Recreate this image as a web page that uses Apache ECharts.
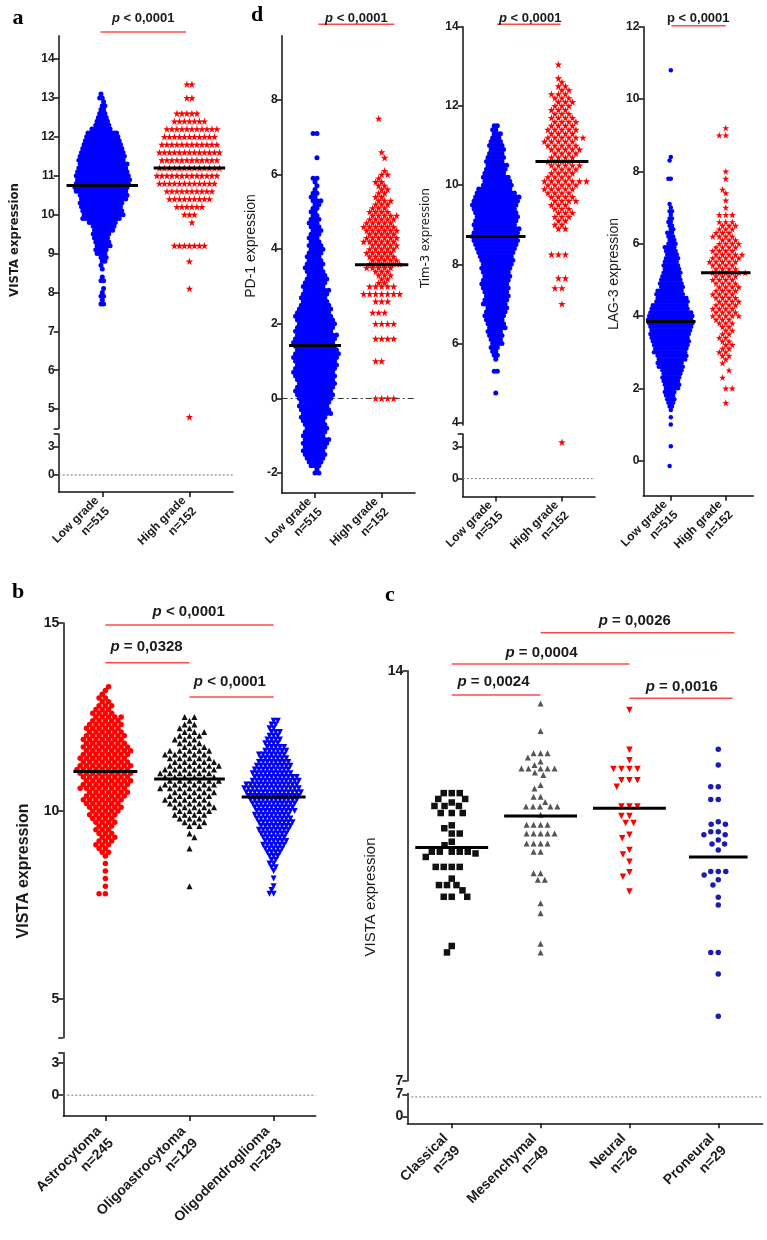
<!DOCTYPE html>
<html><head><meta charset="utf-8">
<script src="https://cdn.jsdelivr.net/npm/echarts@6/dist/echarts.min.js"></script>
<style>html,body{margin:0;padding:0;background:#fff}#c{width:767px;height:1240px}</style>
</head><body><div id="c"></div>
<script>
// ================= DATA =================
const gradeCats = ['Low grade\nn=515', 'High grade\nn=152'];
const histologyCats = ['Astrocytoma\nn=245', 'Oligoastrocytoma\nn=129', 'Oligodendroglioma\nn=293'];
const subtypeCats = ['Classical\nn=39', 'Mesenchymal\nn=49', 'Neural\nn=26', 'Proneural\nn=29'];

// [expression value, number of samples at that level]
const vistaLowGrade = [[7.7,2],[7.8,1],[7.9,2],[8.0,1],[8.1,1],[8.3,2],[8.4,1],[8.6,1],[8.7,1],[8.8,2],[8.9,3],[9.0,4],[9.1,5],[9.2,6],[9.3,6],[9.4,6],[9.5,7],[9.6,8],[9.7,9],[9.8,11],[9.9,15],[10.0,16],[10.1,16],[10.2,16],[10.3,17],[10.4,18],[10.5,19],[10.6,20],[10.7,21],[10.8,21],[10.9,21],[11.0,21],[11.1,20],[11.2,19],[11.3,19],[11.4,18],[11.5,18],[11.6,17],[11.7,16],[11.8,15],[11.9,14],[12.0,13],[12.1,12],[12.2,8],[12.3,6],[12.4,5],[12.5,4],[12.6,3],[12.7,2],[12.8,2],[12.9,1],[13.0,2],[13.1,1]];
const vistaHighGrade = [[4.8,1],[8.1,1],[8.8,1],[9.2,7],[9.8,1],[10.0,3],[10.2,6],[10.4,9],[10.6,10],[10.8,12],[11.0,13],[11.2,13],[11.4,12],[11.6,13],[11.8,12],[12.0,11],[12.2,11],[12.4,7],[12.6,5],[13.0,2],[13.35,2]];
const pd1LowGrade = [[-2.0,2],[-1.9,1],[-1.8,3],[-1.7,4],[-1.6,5],[-1.5,6],[-1.4,6],[-1.3,6],[-1.2,7],[-1.1,7],[-1.0,6],[-0.9,6],[-0.8,6],[-0.7,6],[-0.6,6],[-0.5,7],[-0.4,8],[-0.3,8],[-0.2,8],[-0.1,8],[0.0,9],[0.1,10],[0.2,10],[0.3,10],[0.4,10],[0.5,10],[0.6,11],[0.7,11],[0.8,11],[0.9,11],[1.0,11],[1.1,12],[1.2,12],[1.3,11],[1.4,11],[1.5,11],[1.6,11],[1.7,11],[1.8,10],[1.9,10],[2.0,10],[2.1,10],[2.2,10],[2.3,9],[2.4,9],[2.5,8],[2.6,7],[2.7,7],[2.8,7],[2.9,7],[3.0,6],[3.1,6],[3.2,6],[3.3,5],[3.4,5],[3.5,5],[3.6,5],[3.7,4],[3.8,4],[3.9,4],[4.0,4],[4.1,4],[4.2,3],[4.3,3],[4.4,3],[4.5,3],[4.6,3],[4.7,3],[4.8,3],[4.9,2],[5.0,2],[5.1,2],[5.2,2],[5.3,3],[5.4,2],[5.5,2],[5.6,1],[5.7,1],[5.8,1],[5.9,2],[6.45,1],[7.1,2]];
const pd1HighGrade = [[0.0,4],[1.0,2],[1.6,4],[2.0,4],[2.3,3],[2.6,3],[2.8,7],[3.0,5],[3.1,2],[3.2,2],[3.3,3],[3.4,3],[3.5,5],[3.6,6],[3.7,5],[3.8,5],[3.9,5],[4.0,5],[4.1,5],[4.2,6],[4.3,6],[4.4,5],[4.5,6],[4.6,6],[4.7,5],[4.8,5],[4.9,5],[5.0,4],[5.1,3],[5.2,3],[5.3,3],[5.4,2],[5.5,2],[5.6,2],[5.7,2],[5.8,2],[5.9,1],[6.0,2],[6.1,1],[6.45,1],[6.6,1],[7.5,1]];
const tim3LowGrade = [[4.75,1],[5.3,2],[5.6,1],[5.7,2],[5.8,2],[5.9,3],[6.0,4],[6.1,4],[6.2,5],[6.3,5],[6.4,6],[6.5,6],[6.6,6],[6.7,7],[6.8,7],[6.9,7],[7.0,8],[7.1,8],[7.2,8],[7.3,8],[7.4,9],[7.5,9],[7.6,9],[7.7,9],[7.8,9],[7.9,10],[8.0,10],[8.1,11],[8.2,11],[8.3,12],[8.4,13],[8.5,14],[8.6,15],[8.7,15],[8.8,15],[8.9,15],[9.0,14],[9.1,14],[9.2,14],[9.3,14],[9.4,14],[9.5,15],[9.6,15],[9.7,15],[9.8,13],[9.9,11],[10.0,10],[10.1,9],[10.2,9],[10.3,7],[10.4,7],[10.5,7],[10.6,6],[10.7,6],[10.8,5],[10.9,5],[11.0,5],[11.1,4],[11.2,3],[11.3,3],[11.4,2],[11.5,2]];
const tim3HighGrade = [[3.4,1],[7.0,1],[7.4,2],[7.65,2],[8.25,3],[8.9,2],[9.0,2],[9.1,2],[9.2,3],[9.3,3],[9.4,3],[9.5,3],[9.6,4],[9.7,4],[9.8,4],[9.9,5],[10.0,5],[10.1,7],[10.2,4],[10.3,4],[10.4,4],[10.5,5],[10.6,4],[10.7,4],[10.8,4],[10.9,5],[11.0,5],[11.1,5],[11.2,6],[11.3,4],[11.4,5],[11.5,4],[11.6,4],[11.7,4],[11.8,3],[11.9,3],[12.0,3],[12.1,3],[12.2,3],[12.3,3],[12.4,2],[12.5,2],[12.6,1],[12.7,1],[13.05,1]];
const lag3LowGrade = [[-0.15,1],[0.4,1],[1.0,1],[1.2,1],[1.4,1],[1.5,2],[1.6,3],[1.7,4],[1.8,4],[1.9,5],[2.0,6],[2.1,7],[2.2,7],[2.3,8],[2.4,8],[2.5,9],[2.6,11],[2.7,11],[2.8,12],[2.9,13],[3.0,14],[3.1,14],[3.2,15],[3.3,16],[3.4,16],[3.5,17],[3.6,17],[3.7,18],[3.8,19],[3.9,19],[4.0,19],[4.1,18],[4.2,16],[4.3,15],[4.4,14],[4.5,13],[4.6,12],[4.7,11],[4.8,10],[4.9,10],[5.0,9],[5.1,8],[5.2,8],[5.3,7],[5.4,7],[5.5,6],[5.6,6],[5.7,5],[5.8,5],[5.9,5],[6.0,4],[6.1,3],[6.2,3],[6.3,3],[6.4,2],[6.5,2],[6.6,2],[6.7,2],[6.8,1],[6.9,2],[7.0,1],[7.1,1],[7.8,2],[8.3,1],[8.4,1],[10.8,1]];
const lag3HighGrade = [[1.6,1],[2.0,2],[2.3,1],[2.5,1],[2.7,1],[2.8,1],[2.9,2],[3.0,2],[3.1,2],[3.2,2],[3.3,2],[3.4,2],[3.5,2],[3.6,2],[3.7,2],[3.8,3],[3.9,3],[4.0,5],[4.1,4],[4.2,4],[4.3,4],[4.4,4],[4.5,4],[4.6,4],[4.7,4],[4.8,4],[4.9,4],[5.0,4],[5.1,4],[5.2,6],[5.3,4],[5.4,4],[5.5,5],[5.6,5],[5.7,5],[5.8,4],[5.9,4],[6.0,4],[6.1,3],[6.2,4],[6.3,3],[6.4,3],[6.5,3],[6.6,3],[6.8,3],[7.0,1],[7.2,1],[7.4,1],[7.5,1],[7.8,1],[8.0,1],[9.0,2],[9.2,1]];
const vistaAstrocytoma = [[7.8,2],[8.0,1],[8.2,1],[8.4,1],[8.6,1],[8.8,1],[8.9,2],[9.0,2],[9.1,3],[9.2,3],[9.3,3],[9.4,3],[9.5,3],[9.6,3],[9.7,4],[9.8,4],[9.9,5],[10.0,5],[10.1,6],[10.2,6],[10.3,7],[10.4,7],[10.5,7],[10.6,8],[10.7,8],[10.8,8],[10.9,8],[11.0,9],[11.1,9],[11.2,9],[11.3,8],[11.4,8],[11.5,8],[11.6,8],[11.7,8],[11.8,7],[11.9,7],[12.0,7],[12.1,6],[12.2,6],[12.3,6],[12.4,5],[12.5,5],[12.6,4],[12.7,3],[12.8,3],[12.9,2],[13.0,2],[13.1,1],[13.2,1],[13.3,1]];
const vistaOligoastrocytoma = [[8.0,1],[9.0,1],[9.3,1],[9.4,1],[9.6,2],[9.7,3],[9.8,3],[9.9,4],[10.0,4],[10.1,5],[10.2,5],[10.3,5],[10.4,5],[10.5,5],[10.6,6],[10.7,6],[10.8,6],[10.9,6],[11.0,6],[11.1,6],[11.2,6],[11.3,5],[11.4,5],[11.5,5],[11.6,5],[11.7,3],[11.8,3],[11.9,3],[12.0,3],[12.1,3],[12.2,2],[12.3,2],[12.4,1],[12.5,2]];
const vistaOligodendroglioma = [[7.8,2],[7.9,1],[8.0,1],[8.2,1],[8.4,1],[8.5,2],[8.6,2],[8.7,2],[8.8,3],[8.9,4],[9.0,5],[9.1,6],[9.2,6],[9.3,6],[9.4,7],[9.5,8],[9.6,8],[9.7,9],[9.8,9],[9.9,9],[10.0,10],[10.1,10],[10.2,11],[10.3,12],[10.4,13],[10.5,14],[10.6,14],[10.7,13],[10.8,12],[10.9,11],[11.0,10],[11.1,9],[11.2,9],[11.3,8],[11.4,7],[11.5,7],[11.6,6],[11.7,5],[11.8,4],[11.9,4],[12.0,3],[12.1,3],[12.2,2],[12.3,2],[12.4,2]];
// individual samples (panel c)
const vistaClassical = [11.91,11.91,11.91,11.81,11.81,11.75,11.69,11.69,11.69,11.57,11.57,11.57,11.36,11.31,11.22,11.22,11.08,11.02,10.91,10.91,10.91,10.91,10.91,10.88,10.82,10.65,10.65,10.65,10.65,10.45,10.34,10.34,10.34,10.25,10.14,10.14,10.14,9.30,9.19];
const vistaMesenchymal = [13.44,12.97,12.59,12.59,12.59,12.52,12.45,12.39,12.33,12.33,12.33,12.33,12.33,12.26,12.22,12.05,11.99,11.85,11.85,11.76,11.68,11.68,11.68,11.68,11.68,11.54,11.37,11.37,11.37,11.37,11.22,11.22,11.22,11.22,11.22,11.05,11.05,11.05,11.05,10.91,10.91,10.54,10.54,10.43,10.43,10.03,9.86,9.34,9.19];
const vistaNeural = [13.33,12.65,12.47,12.32,12.32,12.32,12.32,12.13,12.13,12.13,12.02,11.68,11.68,11.68,11.52,11.52,11.40,11.40,11.20,11.14,10.94,10.86,10.74,10.56,10.48,10.23];
const vistaProneural = [12.66,12.39,12.02,12.02,11.80,11.80,11.42,11.38,11.38,11.25,11.25,11.20,11.20,11.11,11.04,11.04,10.94,10.57,10.57,10.57,10.51,10.43,10.34,10.13,10.00,9.19,9.19,8.82,8.10];

const vistaGradeMedians = [10.75, 11.2];
const pd1Medians = [1.42, 3.58];
const tim3Medians = [8.7, 10.6];
const lag3Medians = [3.85, 5.2];
const histologyMedians = [11.05, 10.85, 10.37];
const subtypeMedians = [10.98, 11.52, 11.65, 10.82];

const ticksA = [5,6,7,8,9,10,11,12,13,14];
const ticksLow = [0,3];
const ticksPD1 = [-2,0,2,4,6,8];
const ticksTim3 = [4,6,8,10,12,14];
const ticksLAG3 = [0,2,4,6,8,10,12];
const ticksB = [5,10,15];
const ticksC = [7,14];
const ticksCLow = [0,7];

const pGrade = 'p < 0,0001';
const pHistology = ['p < 0,0001', 'p = 0,0328', 'p < 0,0001'];
const pSubtype = ['p = 0,0026', 'p = 0,0004', 'p = 0,0024', 'p = 0,0016'];

// ================= STYLE / LAYOUT =================
const FONT = '"Liberation Sans", Arial, Helvetica, sans-serif';
const NARROW = '"Liberation Sans Narrow", "Arial Narrow", "DejaVu Sans Condensed", sans-serif';
const INK = '#1a1a1a';
const BLUE = '#0000ff', RED = '#ff0000', PBLUE = '#1c1cb4', GREY = '#555555';
const BRACKET = '#ff4a4a';
const STAR = 'path://M50,0 L61.2,34.5 L97.6,34.5 L68.2,55.9 L79.4,90.5 L50,69.1 L20.6,90.5 L31.8,55.9 L2.4,34.5 L38.8,34.5 Z';

const panels = [
  { cats: gradeCats, tickFont: 12, catFont: 12, catMargin: 12, medians: vistaGradeMedians, half: [0.41,0.41],
    grids: [
      {left:58.7, top:35.7, width:174.3, height:392.9, min:4.5, max:14.6, labels:ticksA, ticks:[4.5].concat(ticksA)},
      {left:58.7, top:433.9, width:174.3, height:58.2, min:-1.84, max:4.42, labels:ticksLow, ticks:ticksLow.concat([4.42]), ref:{v:0, type:[2,2], color:'#777'}}],
    groups: [
      {bins:vistaLowGrade, step:0.1, s:2.6, symbol:'circle', size:5, color:BLUE},
      {bins:vistaHighGrade, step:0.2, s:5, symbol:STAR, size:7.5, color:RED}],
    title: {text:'VISTA expression', x:15, y:240, font:'bold 13px ' + NARROW},
    letter: {text:'a', x:18, y:18},
    brackets: [{from:-0.02, to:0.96, y:32.1, tx:0.47, ty:18.6, text:pGrade, size:13, italic:true}] },
  { cats: gradeCats, tickFont: 12, catFont: 12, catMargin: 12, medians: pd1Medians, half: [0.39,0.4],
    grids: [
      {left:281.7, top:35.7, width:133.3, height:457.2, min:-2.53, max:9.72, labels:ticksPD1, ticks:ticksPD1, ref:{v:0, type:[6,3,2,3], color:'#333'}}],
    groups: [
      {bins:pd1LowGrade, step:0.1, s:3.9, symbol:'circle', size:5, color:BLUE},
      {bins:pd1HighGrade, step:0.1, s:6, symbol:STAR, size:7.5, color:RED}],
    title: {text:'PD-1 expression', x:251.5, y:246, font:'14px ' + FONT},
    letter: {text:'d', x:257, y:15},
    brackets: [{from:0.05, to:1.19, y:24.3, tx:0.62, ty:18, text:pGrade, size:13, italic:true}] },
  { cats: gradeCats, tickFont: 12, catFont: 12, catMargin: 12, medians: tim3Medians, half: [0.45,0.4],
    grids: [
      {left:462.7, top:26.8, width:132.3, height:398.2, min:3.94, max:14, labels:ticksTim3, ticks:ticksTim3},
      {left:462.7, top:433.9, width:132.3, height:62.5, min:-1.66, max:4.17, labels:ticksLow, ticks:ticksLow.concat([4.17]), ref:{v:0, type:[2,2], color:'#777'}}],
    groups: [
      {bins:tim3LowGrade, step:0.1, s:3.1, symbol:'circle', size:5, color:BLUE},
      {bins:tim3HighGrade, step:0.1, s:7, symbol:STAR, size:7.5, color:RED}],
    title: {text:'Tim-3 expression', x:426, y:238, font:'13px ' + NARROW},
    letter: null,
    brackets: [{from:0.02, to:0.98, y:24.3, tx:0.52, ty:18, text:pGrade, size:13, italic:true}] },
  { cats: gradeCats, tickFont: 12, catFont: 12, catMargin: 12, medians: lag3Medians, half: [0.45,0.45],
    grids: [
      {left:643.3, top:26.8, width:110, height:468.9, min:-0.97, max:12, labels:ticksLAG3, ticks:ticksLAG3}],
    groups: [
      {bins:lag3LowGrade, step:0.1, s:2.4, symbol:'circle', size:4.5, color:BLUE},
      {bins:lag3HighGrade, step:0.1, s:6.5, symbol:STAR, size:7, color:RED}],
    title: {text:'LAG-3 expression', x:614, y:274, font:'14px ' + FONT},
    letter: null,
    brackets: [{from:0.01, to:1.0, y:25.7, tx:0.5, ty:18, text:pGrade, size:13, italic:false}] },
  { cats: histologyCats, tickFont: 14, catFont: 14, catMargin: 19, medians: histologyMedians, half: [0.38,0.42,0.38],
    grids: [
      {left:63.3, top:622.9, width:252.4, height:414.8, min:3.97, max:15, labels:ticksB, ticks:[3.97].concat(ticksB)},
      {left:63.3, top:1052.7, width:252.4, height:66.6, min:-1.94, max:3.94, labels:ticksLow, ticks:ticksLow.concat([3.94]), ref:{v:0, type:[2,2], color:'#777'}}],
    groups: [
      {bins:vistaAstrocytoma, step:0.1, s:6.3, symbol:'circle', size:5.5, color:RED},
      {bins:vistaOligoastrocytoma, step:0.1, s:9.8, symbol:'triangle', size:6, color:'#111'},
      {bins:vistaOligodendroglioma, step:0.1, s:4.2, symbol:'triangle', rotate:180, size:6, color:BLUE}],
    title: {text:'VISTA expression', x:23.3, y:871, font:'bold 16px ' + FONT},
    letter: {text:'b', x:18, y:592},
    brackets: [
      {from:0, to:2, y:625, tx:0.99, ty:612, text:pHistology[0], size:15, italic:true},
      {from:0, to:1, y:662.8, tx:0.49, ty:646.7, text:pHistology[1], size:15, italic:true},
      {from:1, to:2, y:697, tx:1.48, ty:681.4, text:pHistology[2], size:15, italic:true}] },
  { cats: subtypeCats, tickFont: 14, catFont: 14, catMargin: 19, medians: subtypeMedians, half: [0.41,0.41,0.41,0.33],
    grids: [
      {left:407.3, top:670.7, width:355.4, height:410, min:7, max:14, labels:ticksC, ticks:ticksC},
      {left:407.3, top:1093.5, width:355.4, height:29.8, min:-2.25, max:7.3, labels:ticksCLow, ticks:ticksCLow, ref:{v:6.2, type:[2,2], color:'#777'}}],
    groups: [
      {values:vistaClassical, d:8, symbol:'rect', size:6.5, color:'#111'},
      {values:vistaMesenchymal, d:7, symbol:'triangle', size:6, color:GREY},
      {values:vistaNeural, d:8, symbol:'triangle', rotate:180, size:6.5, color:RED},
      {values:vistaProneural, d:7.5, symbol:'circle', size:5.5, color:PBLUE}],
    title: {text:'VISTA expression', x:371, y:897, font:'15px ' + FONT},
    letter: {text:'c', x:390, y:595},
    brackets: [
      {from:1, to:3.18, y:632.7, tx:2.06, ty:620.7, text:pSubtype[0], size:15, italic:true},
      {from:0, to:2, y:664, tx:1.01, ty:653.3, text:pSubtype[1], size:15, italic:true},
      {from:0, to:1, y:695, tx:0.47, ty:681.7, text:pSubtype[2], size:15, italic:true},
      {from:2, to:3.16, y:698.3, tx:2.59, ty:686.7, text:pSubtype[3], size:15, italic:true}] }
];

// ================= LAYOUT HELPERS (beeswarm placement) =================
function rowLayout(bins, step, s, pxCat, cat) {
  const out = [];
  bins.forEach(([v, n]) => {
    const r = Math.round(v / step);
    const odd = (((r % 2) + 2) % 2) === 1;
    const flip = ((((Math.floor(r / 2)) % 2) + 2) % 2) === 0 ? 1 : -1;
    const pos = [];
    if (!odd) { pos.push(0); for (let k = 1; pos.length < n; k++) pos.push(flip * k * s, -flip * k * s); }
    else { for (let k = 0; pos.length < n; k++) pos.push(flip * (k + 0.5) * s, -flip * (k + 0.5) * s); }
    for (let i = 0; i < n; i++) out.push([cat + pos[i] / pxCat, v]);
  });
  return out;
}
function swarmLayout(values, d, pxY, pxCat, cat) {
  const sorted = values.slice().sort((a, b) => b - a);
  const placed = [], out = [];
  sorted.forEach(v => {
    const y = v * pxY;
    const near = placed.filter(p => Math.abs(p.y - y) < d);
    const cands = [0];
    near.forEach(p => { const dy = p.y - y; const dx = Math.sqrt(d * d - dy * dy); cands.push(p.x + dx, p.x - dx); });
    cands.sort((a, b) => (Math.abs(a) - Math.abs(b)) || (a - b));
    let x = 0;
    for (const c of cands) {
      if (near.every(p => (p.x - c) * (p.x - c) + (p.y - y) * (p.y - y) >= d * d - 0.01)) { x = c; break; }
    }
    placed.push({x, y});
    out.push([cat + x / pxCat, v]);
  });
  return out;
}

// ================= BUILD OPTION =================
const option = {animation:false, backgroundColor:'#fff', grid:[], xAxis:[], yAxis:[], series:[]};
const axisLineStyle = {color:'#111', width:1.5};

panels.forEach(p => {
  const n = p.cats.length;
  const catIdx = p.cats.map((_, i) => i);
  p.gridIdx = [];
  p.grids.forEach((g, gi) => {
    const idx = option.grid.length;
    p.gridIdx.push(idx);
    const bottom = gi === p.grids.length - 1;
    option.grid.push({left:g.left, top:g.top, width:g.width, height:g.height});
    option.xAxis.push({
      type:'value', gridIndex:idx, min:-0.5, max:n - 0.5, show:bottom,
      axisLine:{show:true, onZero:false, lineStyle:axisLineStyle},
      axisTick:{show:true, length:5, customValues:catIdx, lineStyle:axisLineStyle},
      axisLabel:{show:true, customValues:catIdx, formatter:(v) => p.cats[Math.round(v)],
        rotate:45, margin:p.catMargin, align:'right', verticalAlign:'middle',
        fontSize:p.catFont, fontWeight:'bold', fontFamily:FONT, color:INK, lineHeight:p.catFont + 3},
      splitLine:{show:false}
    });
    option.yAxis.push({
      type:'value', gridIndex:idx, min:g.min, max:g.max,
      axisLine:{show:true, onZero:false, lineStyle:axisLineStyle},
      axisTick:{show:true, length:5, customValues:g.ticks, lineStyle:axisLineStyle},
      axisLabel:{show:true, customValues:g.labels, margin:4, fontSize:p.tickFont, fontWeight:'bold', fontFamily:FONT, color:INK},
      splitLine:{show:false}
    });
    if (g.ref) {
      option.series.push({type:'line', xAxisIndex:idx, yAxisIndex:idx, data:[[-0.5, g.ref.v],[n - 0.5, g.ref.v]],
        symbol:'none', silent:true, z:1, lineStyle:{color:g.ref.color, width:1, type:g.ref.type}});
    }
  });
  const g0 = p.grids[0];
  const pxCat = g0.width / n;
  const pxY = g0.height / (g0.max - g0.min);
  p.groups.forEach((grp, ci) => {
    const pts = grp.bins ? rowLayout(grp.bins, grp.step, grp.s, pxCat, ci)
                         : swarmLayout(grp.values, grp.d, pxY, pxCat, ci);
    p.grids.forEach((g, gi) => {
      const sub = pts.filter(q => q[1] >= g.min && q[1] <= g.max);
      if (!sub.length) return;
      option.series.push({type:'scatter', xAxisIndex:p.gridIdx[gi], yAxisIndex:p.gridIdx[gi], data:sub,
        symbol:grp.symbol, symbolSize:grp.size, symbolRotate:grp.rotate || 0, silent:true, z:2,
        itemStyle:{color:grp.color, opacity:1}});
    });
  });
  p.medians.forEach((m, ci) => {
    const gi = p.grids.findIndex(g => m >= g.min && m <= g.max);
    const h = p.half[ci];
    option.series.push({type:'line', xAxisIndex:p.gridIdx[gi], yAxisIndex:p.gridIdx[gi],
      data:[[ci - h, m],[ci + h, m]], symbol:'none', silent:true, z:5, lineStyle:{color:'#000', width:3}});
  });
});

const chart = echarts.init(document.getElementById('c'), null, {renderer:'canvas'});
chart.setOption(option);

// ================= ANNOTATIONS =================
const graphic = [];
function pLabel(text, x, y, size, italic) {
  const rich = {
    i:{fontStyle:'italic', fontWeight:'bold', fontSize:size, fontFamily:FONT, fill:INK},
    b:{fontWeight:'bold', fontSize:size, fontFamily:FONT, fill:INK}
  };
  const t = italic ? '{i|' + text.charAt(0) + '}{b|' + text.slice(1) + '}' : '{b|' + text + '}';
  return {type:'text', x, y, silent:true, z:10,
    style:{text:t, rich, font:'bold ' + size + 'px ' + FONT, fill:INK, align:'center', verticalAlign:'middle'}};
}
panels.forEach(p => {
  const xi = p.gridIdx[0];
  const px = v => chart.convertToPixel({xAxisIndex:xi}, v);
  p.brackets.forEach(b => {
    graphic.push({type:'line', silent:true, z:10, shape:{x1:px(b.from), y1:b.y, x2:px(b.to), y2:b.y},
      style:{stroke:BRACKET, lineWidth:1.5}});
    graphic.push(pLabel(b.text, px(b.tx), b.ty, b.size, b.italic));
  });
  graphic.push({type:'text', x:p.title.x, y:p.title.y, rotation:Math.PI / 2, silent:true,
    style:{text:p.title.text, font:p.title.font, fill:INK, align:'center', verticalAlign:'middle'}});
  if (p.letter) {
    graphic.push({type:'text', x:p.letter.x, y:p.letter.y, silent:true,
      style:{text:p.letter.text, font:'bold 22px "Liberation Serif", "Times New Roman", serif', fill:'#000', align:'center', verticalAlign:'middle'}});
  }
});
chart.setOption({graphic});
</script>
</body></html>
